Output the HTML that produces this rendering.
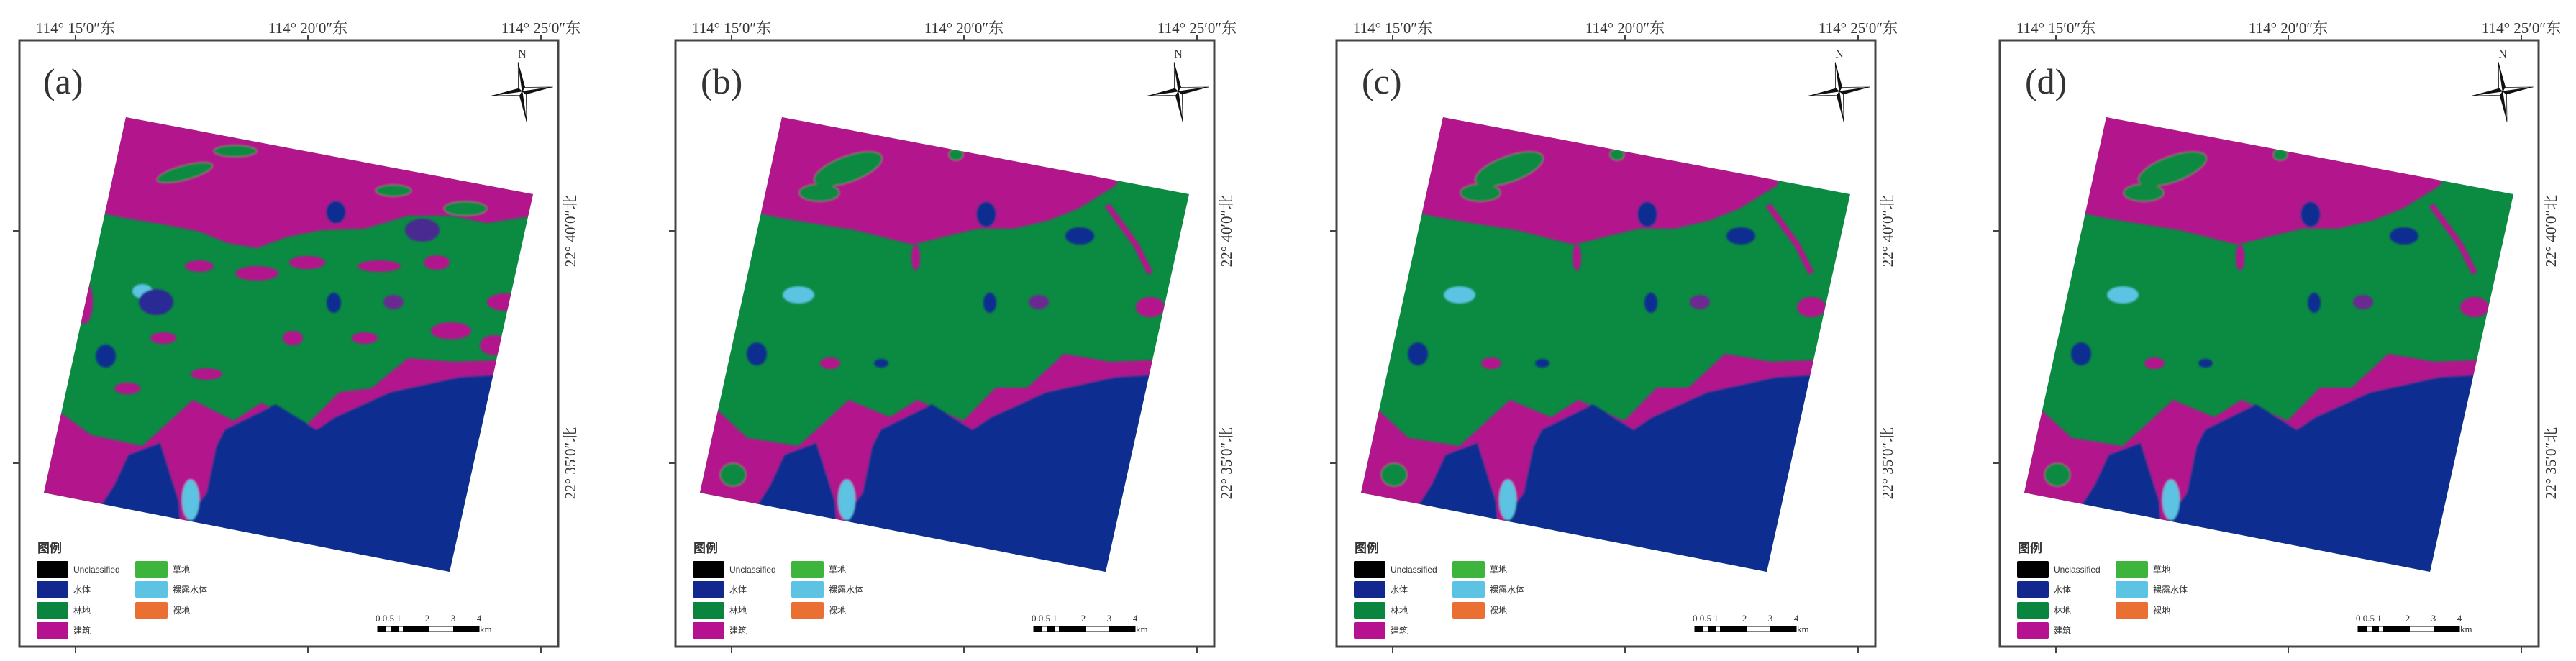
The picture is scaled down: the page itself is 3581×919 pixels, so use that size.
<!DOCTYPE html>
<html><head><meta charset="utf-8"><style>
html,body{margin:0;padding:0;background:#fff;}
body{width:3581px;height:919px;position:relative;overflow:hidden;}
svg{position:absolute;top:0;}
text{font-family:"Liberation Serif","Noto Serif CJK SC",serif;fill:#333;}
.cj{font-family:"Liberation Sans","Noto Sans CJK SC",sans-serif;}
</style></head><body>
<svg width="0" height="0" style="position:absolute">
<defs>
<clipPath id="mq"><polygon points="148,163 714,270 598,795 34,685"/></clipPath>
<filter id="bl"><feGaussianBlur stdDeviation="1.2"/></filter>
<g id="frame">
 <rect x="27" y="56" width="749" height="843" fill="none" stroke="#444" stroke-width="3"/>
 <g stroke="#444" stroke-width="2">
  <line x1="105" y1="49" x2="105" y2="56"/><line x1="428" y1="49" x2="428" y2="56"/><line x1="752" y1="49" x2="752" y2="56"/>
  <line x1="105" y1="899" x2="105" y2="908"/><line x1="428" y1="899" x2="428" y2="908"/><line x1="752" y1="899" x2="752" y2="908"/>
  <line x1="18" y1="321" x2="27" y2="321"/><line x1="18" y1="644" x2="27" y2="644"/>
 </g>
 <text x="105" y="46" font-size="21" text-anchor="middle">114° 15′0″东</text>
 <text x="428" y="46" font-size="21" text-anchor="middle">114° 20′0″东</text>
 <text x="752" y="46" font-size="21" text-anchor="middle">114° 25′0″东</text>
 <text transform="translate(800,321) rotate(-90)" font-size="21" text-anchor="middle">22° 40′0″北</text>
 <text transform="translate(800,644) rotate(-90)" font-size="21" text-anchor="middle">22° 35′0″北</text>
 <!-- compass -->
 <text x="726" y="80" font-size="16" text-anchor="middle" fill="#222">N</text>
 <g transform="translate(726,127) rotate(-8)">
  <polygon points="0,-41 5,-4 0,0" fill="#111"/><polygon points="0,-41 -5,-4 0,0" fill="#fff" stroke="#111" stroke-width="0.8"/>
  <polygon points="0,43 -5,4 0,0" fill="#111"/><polygon points="0,43 5,4 0,0" fill="#fff" stroke="#111" stroke-width="0.8"/>
  <polygon points="-43,0 -4,-5 0,0" fill="#111"/><polygon points="-43,0 -4,5 0,0" fill="#fff" stroke="#111" stroke-width="0.8"/>
  <polygon points="43,0 4,5 0,0" fill="#111"/><polygon points="43,0 4,-5 0,0" fill="#fff" stroke="#111" stroke-width="0.8"/>
 </g>
 <!-- legend -->
 <text x="52" y="768" font-size="17" font-weight="bold" class="cj" fill="#444">图例</text>
 <rect x="51" y="780" width="44" height="23" fill="#000" rx="2"/>
 <rect x="51" y="808" width="44" height="23" fill="#13288e" rx="2"/>
 <rect x="51" y="837" width="44" height="23" fill="#0a8540" rx="2"/>
 <rect x="51" y="865" width="44" height="23" fill="#b6128f" rx="2"/>
 <rect x="188" y="780" width="45" height="23" fill="#3db43c" rx="2"/>
 <rect x="188" y="808" width="45" height="23" fill="#5cc3e2" rx="2"/>
 <rect x="188" y="837" width="45" height="23" fill="#ea6f33" rx="2"/>
 <g font-size="12" class="cj" fill="#333">
 <text x="102" y="796" class="cj">Unclassified</text>
 <text x="102" y="824" class="cj">水体</text>
 <text x="102" y="853" class="cj">林地</text>
 <text x="102" y="881" class="cj">建筑</text>
 <text x="240" y="796" class="cj">草地</text>
 <text x="240" y="824" class="cj">裸露水体</text>
 <text x="240" y="853" class="cj">裸地</text>
 </g>
 <!-- scale bar -->
 <g font-size="13" fill="#333">
  <text x="522" y="864">0 0.5 1</text><text x="594" y="864" text-anchor="middle">2</text><text x="630" y="864" text-anchor="middle">3</text><text x="666" y="864" text-anchor="middle">4</text>
  <text x="667" y="879">km</text>
 </g>
 <rect x="525" y="871" width="141" height="7" fill="#fff" stroke="#000" stroke-width="1"/>
 <rect x="525" y="871" width="12" height="7" fill="#000"/><rect x="544" y="871" width="10" height="7" fill="#000"/>
 <rect x="560" y="871" width="37" height="7" fill="#000"/><rect x="630" y="871" width="36" height="7" fill="#000"/>
</g>
<g id="mapbase">
 <polygon points="148,163 714,270 598,795 34,685" fill="#0b8a42"/>
 <g clip-path="url(#mq)" filter="url(#bl)">
  <path d="M140,150 L620,240 L612,258 L560,290 L520,306 L470,318 L420,318 L370,330 L330,340 L290,330 L250,320 L200,312 L140,302 L110,295 Z" fill="#b3158c"/>
  <ellipse cx="240" cy="235" rx="50" ry="18" fill="#0b8a42" transform="rotate(-20 240 235)"/>
  <ellipse cx="200" cy="268" rx="28" ry="12" fill="#0b8a42"/>
  <ellipse cx="390" cy="215" rx="10" ry="8" fill="#0b8a42"/>
  <path d="M0,560 L59,571 L100,609 L171,620 L241,556 L298,580 L336,556 L400,585 L445,539 L489,539 L540,492 L604,503 L680,500 L680,900 L0,900 Z" fill="#b3158c"/>
  <path d="M700,521 L659,521 L611,524 L515,545 L438,580 L413,597 L356,562 L285,597 L273,621 L260,685 L234,720 L234,900 L700,900 Z" fill="#102d90"/>
  <path d="M151,632 L196,615 L222,697 L226,760 L100,760 L113,703 L132,673 Z" fill="#102d90"/>
  <ellipse cx="238" cy="695" rx="12" ry="28" fill="#5cc3e2"/>
  <ellipse cx="80" cy="660" rx="18" ry="16" fill="#0b8a42"/>
  <ellipse cx="171" cy="410" rx="22" ry="12" fill="#5cc3e2"/>
  <ellipse cx="432" cy="298" rx="14" ry="18" fill="#102d90"/>
  <ellipse cx="562" cy="328" rx="20" ry="12" fill="#102d90"/>
  <ellipse cx="437" cy="421" rx="9" ry="14" fill="#102d90"/>
  <ellipse cx="505" cy="420" rx="14" ry="10" fill="#6a2a90"/>
  <ellipse cx="113" cy="492" rx="14" ry="16" fill="#102d90"/>
  <ellipse cx="660" cy="427" rx="20" ry="14" fill="#b3158c"/>
  <ellipse cx="286" cy="505" rx="10" ry="6" fill="#102d90"/>
  <ellipse cx="215" cy="505" rx="14" ry="8" fill="#b3158c"/>
  <ellipse cx="334" cy="358" rx="6" ry="18" fill="#b3158c"/>
  <path d="M600,285 L640,340 L660,380" stroke="#b3158c" stroke-width="8" fill="none"/>
 </g>
</g>
<g id="mapa">
 <polygon points="148,163 714,270 598,795 34,685" fill="#0b8a42"/>
 <g clip-path="url(#mq)" filter="url(#bl)">
  <path d="M140,150 L720,260 L715,300 L650,310 L600,300 L540,300 L480,318 L420,320 L370,330 L330,345 L290,338 L250,322 L200,312 L140,302 L110,295 Z" fill="#b3158c"/>
  <ellipse cx="230" cy="240" rx="40" ry="10" fill="#0b8a42" transform="rotate(-15 230 240)"/>
  <ellipse cx="300" cy="210" rx="30" ry="8" fill="#0b8a42"/>
  <ellipse cx="520" cy="265" rx="25" ry="8" fill="#0b8a42"/>
  <ellipse cx="620" cy="290" rx="30" ry="10" fill="#0b8a42"/>
  <path d="M0,560 L59,575 L100,605 L171,620 L241,556 L298,585 L336,560 L400,590 L445,545 L489,540 L540,498 L604,503 L680,500 L680,900 L0,900 Z" fill="#b3158c"/>
  <path d="M700,521 L659,521 L611,524 L515,545 L438,580 L413,597 L356,562 L285,597 L273,621 L260,685 L234,720 L234,900 L700,900 Z" fill="#102d90"/>
  <path d="M151,632 L196,615 L222,697 L226,760 L100,760 L113,703 L132,673 Z" fill="#102d90"/>
  <ellipse cx="238" cy="695" rx="12" ry="28" fill="#5cc3e2"/>
  <ellipse cx="171" cy="405" rx="14" ry="10" fill="#5cc3e2"/>
  <ellipse cx="190" cy="420" rx="24" ry="18" fill="#2a2a95"/>
  <ellipse cx="440" cy="295" rx="14" ry="16" fill="#102d90"/>
  <ellipse cx="560" cy="320" rx="24" ry="16" fill="#4a2a90"/>
  <ellipse cx="437" cy="421" rx="10" ry="14" fill="#102d90"/>
  <ellipse cx="520" cy="420" rx="14" ry="10" fill="#6a2a90"/>
  <ellipse cx="120" cy="495" rx="14" ry="16" fill="#102d90"/>
  <ellipse cx="675" cy="420" rx="25" ry="12" fill="#b3158c"/>
  <ellipse cx="330" cy="380" rx="30" ry="10" fill="#b3158c"/>
  <ellipse cx="400" cy="365" rx="25" ry="9" fill="#b3158c"/>
  <ellipse cx="500" cy="370" rx="30" ry="8" fill="#b3158c"/>
  <ellipse cx="580" cy="365" rx="18" ry="10" fill="#b3158c"/>
  <ellipse cx="250" cy="370" rx="20" ry="8" fill="#b3158c"/>
  <ellipse cx="600" cy="460" rx="28" ry="12" fill="#b3158c"/>
  <ellipse cx="200" cy="470" rx="18" ry="8" fill="#b3158c"/>
  <ellipse cx="260" cy="520" rx="22" ry="8" fill="#b3158c"/>
  <ellipse cx="380" cy="470" rx="14" ry="10" fill="#b3158c"/>
  <ellipse cx="480" cy="470" rx="18" ry="8" fill="#b3158c"/>
  <ellipse cx="90" cy="420" rx="12" ry="30" fill="#b3158c"/>
  <ellipse cx="150" cy="540" rx="18" ry="8" fill="#b3158c"/>
  <ellipse cx="660" cy="480" rx="20" ry="14" fill="#b3158c"/>
 </g>
</g>
</defs>
</svg>

<svg width="830" height="919" style="left:0px">
 <use href="#frame"/>
 <g transform="translate(27,0)"><use href="#mapa"/></g>
 <text x="60" y="130" font-size="50" fill="#111">(a)</text>
</svg>
<svg width="830" height="919" style="left:912px">
 <use href="#frame"/>
 <g transform="translate(27,0)"><use href="#mapbase"/></g>
 <text x="62" y="130" font-size="50" fill="#111">(b)</text>
</svg>
<svg width="830" height="919" style="left:1831px">
 <use href="#frame"/>
 <g transform="translate(27,0)"><use href="#mapbase"/></g>
 <text x="62" y="130" font-size="50" fill="#111">(c)</text>
</svg>
<svg width="830" height="919" style="left:2753px">
 <use href="#frame"/>
 <g transform="translate(27,0)"><use href="#mapbase"/></g>
 <text x="62" y="130" font-size="50" fill="#111">(d)</text>
</svg>
</body></html>
